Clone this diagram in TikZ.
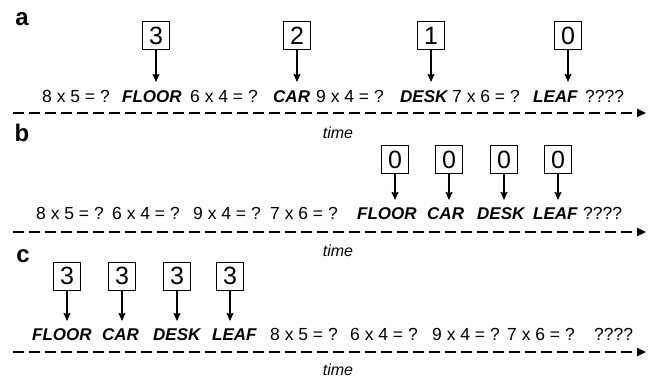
\documentclass[tikz,border=0pt]{standalone}
\usepackage{fontspec}
\setmainfont{Liberation Sans}
\usetikzlibrary{arrows.meta}
\tikzset{
  tok/.style={inner sep=0pt, anchor=base west, font=\fontsize{17.5}{20}\selectfont},
  word/.style={inner sep=0pt, anchor=base west, font=\fontsize{17}{20}\selectfont\bfseries\itshape},
  numbox/.style={draw, line width=1pt, minimum width=27pt, minimum height=28pt, inner sep=0pt,
    font=\fontsize{25}{28}\selectfont},
  cue/.style={-{Stealth[length=8pt,width=7pt,inset=1pt]}, line width=1.3pt},
  timeline/.style={line width=2.6pt, dash pattern=on 10.5pt off 5.5pt, -{Triangle[length=9pt,width=8pt]}},
  timelabel/.style={inner sep=0pt, font=\fontsize{16}{18}\selectfont\itshape},
  panel/.style={inner sep=0pt, font=\fontsize{24}{26}\selectfont\bfseries}
}
\begin{document}
\begin{tikzpicture}[x=1pt, y=-1pt]
\useasboundingbox (0,0) rectangle (650,379);

% ---------- panel a: words interleaved with sums ----------
\node[panel] (pa) at (22,19) {a};
\node[tok]  (a1) at (42,103)  {8 x 5 = ?};
\node[word] (aw1) at (122,103) {FLOOR};
\node[tok]  (a2) at (190,103) {6 x 4 = ?};
\node[word] (aw2) at (273,103) {CAR};
\node[tok]  (a3) at (316,103) {9 x 4 = ?};
\node[word] (aw3) at (400,103) {DESK};
\node[tok]  (a4) at (452,103) {7 x 6 = ?};
\node[word] (aw4) at (533,103) {LEAF};
\node[tok]  (a5) at (585,103) {????};

\node[numbox] (ab1) at (156,36) {3};
\node[numbox] (ab2) at (297,36) {2};
\node[numbox] (ab3) at (431,36) {1};
\node[numbox] (ab4) at (568,36) {0};
\coordinate (at1) at (156,82);
\coordinate (at2) at (297,82);
\coordinate (at3) at (431,82);
\coordinate (at4) at (568,82);
\foreach \i in {1,...,4} \draw[cue] (ab\i.south) -- (at\i);

\coordinate (la0) at (13,113);
\coordinate (la1) at (646,113);
\draw[timeline] (la0) -- (la1);
\node[timelabel] (ta) at (338,133) {time};

% ---------- panel b: words after the sums ----------
\node[panel] (pb) at (22,133) {b};
\node[tok]  (b1) at (36,220)  {8 x 5 = ?};
\node[tok]  (b2) at (112,220) {6 x 4 = ?};
\node[tok]  (b3) at (193,220) {9 x 4 = ?};
\node[tok]  (b4) at (270,220) {7 x 6 = ?};
\node[word] (bw1) at (357,220) {FLOOR};
\node[word] (bw2) at (427,220) {CAR};
\node[word] (bw3) at (477,220) {DESK};
\node[word] (bw4) at (533,220) {LEAF};
\node[tok]  (b5) at (583,220) {????};

\node[numbox] (bb1) at (395,160) {0};
\node[numbox] (bb2) at (449,160) {0};
\node[numbox] (bb3) at (504,160) {0};
\node[numbox] (bb4) at (558,160) {0};
\coordinate (bt1) at (395,200);
\coordinate (bt2) at (449,200);
\coordinate (bt3) at (504,200);
\coordinate (bt4) at (558,200);
\foreach \i in {1,...,4} \draw[cue] (bb\i.south) -- (bt\i);

\coordinate (lb0) at (13,232);
\coordinate (lb1) at (646,232);
\draw[timeline] (lb0) -- (lb1);
\node[timelabel] (tb) at (338,251) {time};

% ---------- panel c: words before the sums ----------
\node[panel] (pc) at (23,256) {c};
\node[word] (cw1) at (32,340)  {FLOOR};
\node[word] (cw2) at (102,340) {CAR};
\node[word] (cw3) at (153,340) {DESK};
\node[word] (cw4) at (212,340) {LEAF};
\node[tok]  (c1) at (270,340) {8 x 5 = ?};
\node[tok]  (c2) at (350,340) {6 x 4 = ?};
\node[tok]  (c3) at (432,340) {9 x 4 = ?};
\node[tok]  (c4) at (507,340) {7 x 6 = ?};
\node[tok]  (c5) at (594,340) {????};

\node[numbox] (cb1) at (67,276)  {3};
\node[numbox] (cb2) at (122,276) {3};
\node[numbox] (cb3) at (177,276) {3};
\node[numbox] (cb4) at (230,276) {3};
\coordinate (ct1) at (67,321);
\coordinate (ct2) at (122,321);
\coordinate (ct3) at (177,321);
\coordinate (ct4) at (230,321);
\foreach \i in {1,...,4} \draw[cue] (cb\i.south) -- (ct\i);

\coordinate (lc0) at (13,352);
\coordinate (lc1) at (646,352);
\draw[timeline] (lc0) -- (lc1);
\node[timelabel] (tc) at (338,370) {time};
\end{tikzpicture}
\end{document}
